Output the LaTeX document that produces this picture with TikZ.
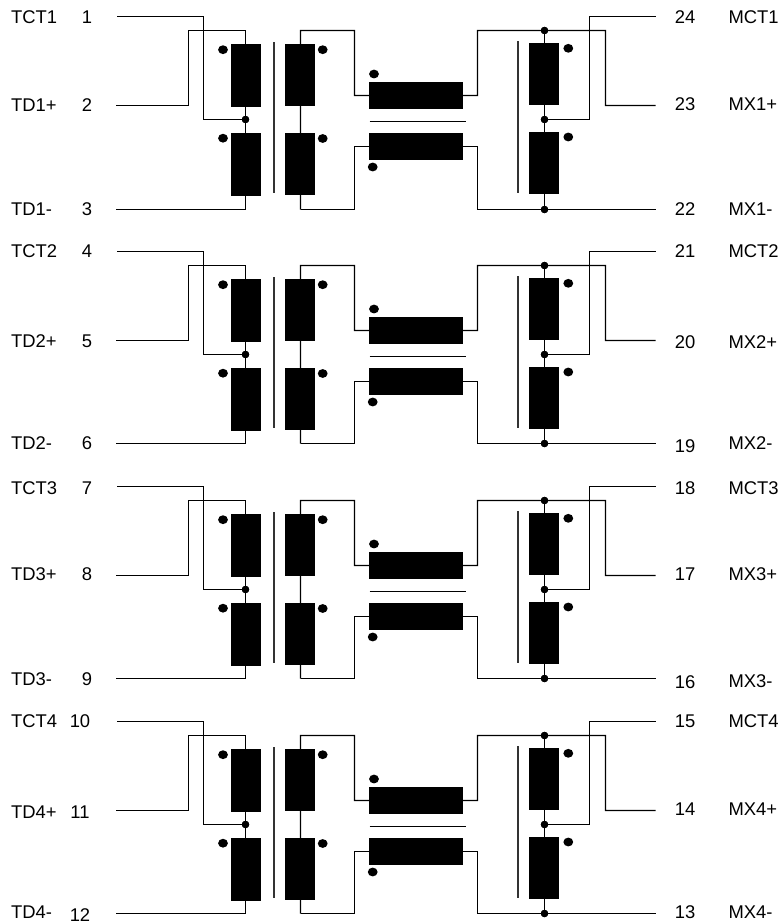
\documentclass[tikz,border=0pt]{standalone}
\usepackage{fontspec}
\setmainfont{Liberation Sans}
\usetikzlibrary{shapes.geometric}
\tikzset{
  wire/.style={draw=black,line width=1.2pt,line join=miter},
  corebar/.style={draw=black!80,line width=1.7pt},
  coilv/.style={rectangle,fill=black,draw=none,inner sep=0pt,minimum width=29.7pt,minimum height=62pt},
  coilh/.style={rectangle,fill=black,draw=none,inner sep=0pt,minimum width=93.4pt,minimum height=26.6pt},
  joint/.style={circle,fill=black,draw=none,inner sep=0pt,minimum size=7.4pt},
  pol/.style={ellipse,fill=black,draw=none,inner sep=0pt,minimum width=9.8pt,minimum height=8.8pt},
  lab/.style={anchor=base west,inner sep=0pt,font=\fontsize{18.4pt}{20pt}\selectfont},
  num/.style={anchor=base,inner sep=0pt,font=\fontsize{18.4pt}{20pt}\selectfont},
}
\newcommand{\txblock}[3]{%
  \begin{scope}[yshift=-#2pt]
    % windings
    \node[coilv] (#1pa) at (245.8,75.5) {};
    \node[coilv] (#1pb) at (245.8,164.6) {};
    \node[coilv] (#1sa) at (300.1,75) {};
    \node[coilv] (#1sb) at (300.1,164.2) {};
    \node[coilh] (#1ca) at (416,95.6) {};
    \node[coilh] (#1cb) at (416,146.5) {};
    \node[coilv] (#1ra) at (544.1,73.8) {};
    \node[coilv] (#1rb) at (544.1,162.8) {};
    % joints
    \node[joint] (#1jl) at (245.5,119.5) {};
    \node[joint] (#1jt) at (544.5,30.5) {};
    \node[joint] (#1jm) at (544.5,119.5) {};
    \node[joint] (#1jb) at (544.5,#3) {};
    % polarity dots
    \node[pol] (#1d1) at (223,49.7) {};
    \node[pol] (#1d2) at (223,138.2) {};
    \node[pol] (#1d3) at (322.7,49.7) {};
    \node[pol] (#1d4) at (322.7,138.5) {};
    \node[pol] (#1d5) at (374,74) {};
    \node[pol] (#1d6) at (372.7,167) {};
    \node[pol] (#1d7) at (568.3,48.3) {};
    \node[pol] (#1d8) at (568.3,137) {};
    % free ends
    \coordinate (#1pin1) at (117.3,16.5);
    \coordinate (#1pin2) at (116,105.5);
    \coordinate (#1pin3) at (116,#3);
    \coordinate (#1pin4) at (655.7,16.5);
    \coordinate (#1pin5) at (655.7,105.5);
    \coordinate (#1pin6) at (655.7,#3);
    % bends
    \coordinate (#1a1) at (203.5,119.5);
    \coordinate (#1a2) at (188.5,30.5);
    \coordinate (#1a3) at (300.5,30.5);
    \coordinate (#1a4) at (354.5,95.5);
    \coordinate (#1a5) at (300.5,#3);
    \coordinate (#1a6) at (354.5,146.5);
    \coordinate (#1a7) at (477.5,95.5);
    \coordinate (#1a8) at (477.5,146.5);
    \coordinate (#1a9) at (605.5,30.5);
    \coordinate (#1a10) at (589.5,119.5);
    \coordinate (#1c1) at (245.5,30.5);
    \coordinate (#1c2) at (245.5,#3);
    % wires
    \draw[wire] (#1pin1) -| (#1a1) -- (#1jl.center);
    \draw[wire] (#1pin2) -| (#1a2) -- (#1c1) -- (#1c2) -- (#1pin3);
    \draw[wire] (#1a5) -- (#1a3) -| (#1a4) -- (#1ca.center);
    \draw[wire] (#1a5) -| (#1a6) -- (#1cb.center);
    \draw[wire] (#1ca.center) -- (#1a7) |- (#1jt.center) -- (#1a9) |- (#1pin5);
    \draw[wire] (#1cb.center) -- (#1a8) |- (#1jb.center) -- (#1pin6);
    \draw[wire] (#1jt.center) -- (#1jb.center);
    \draw[wire] (#1jm.center) -| (#1a10) |- (#1pin4);
    % cores
    \coordinate (#1b1) at (274,42.3);
    \coordinate (#1b2) at (274,193.3);
    \coordinate (#1b3) at (517.7,41.3);
    \coordinate (#1b4) at (517.7,192.7);
    \coordinate (#1b5) at (369.5,121.5);
    \coordinate (#1b6) at (466,121.5);
    \draw[corebar] (#1b1) -- (#1b2);
    \draw[corebar] (#1b3) -- (#1b4);
    \draw[wire] (#1b5) -- (#1b6);
    % redraw windings above wires
    \fill[black] (#1pa.south west) rectangle (#1pa.north east);
    \fill[black] (#1pb.south west) rectangle (#1pb.north east);
    \fill[black] (#1sa.south west) rectangle (#1sa.north east);
    \fill[black] (#1sb.south west) rectangle (#1sb.north east);
    \fill[black] (#1ca.south west) rectangle (#1ca.north east);
    \fill[black] (#1cb.south west) rectangle (#1cb.north east);
    \fill[black] (#1ra.south west) rectangle (#1ra.north east);
    \fill[black] (#1rb.south west) rectangle (#1rb.north east);
    \fill[black] (#1jl) circle (3.7pt);
    \fill[black] (#1jt) circle (3.7pt);
    \fill[black] (#1jm) circle (3.7pt);
    \fill[black] (#1jb) circle (3.7pt);
  \end{scope}%
}
\begin{document}
\begin{tikzpicture}[x=1pt,y=-1pt]
\useasboundingbox (0,0) rectangle (781,924);
\txblock{A}{0}{209.5}
\txblock{B}{235}{208.5}
\txblock{C}{470}{208.5}
\txblock{D}{705}{208.5}
% left labels
\node[lab] (l1) at (11,23.9) {TCT1};
\node[num] (n1) at (87,23.9) {1};
\node[lab] (l2) at (11,111.6) {TD1+};
\node[num] (n2) at (87,111.6) {2};
\node[lab] (l3) at (11,215.8) {TD1-};
\node[num] (n3) at (87,215.8) {3};
\node[lab] (l4) at (11,257.3) {TCT2};
\node[num] (n4) at (87,257.3) {4};
\node[lab] (l5) at (11,347.6) {TD2+};
\node[num] (n5) at (87,347.6) {5};
\node[lab] (l6) at (11,449.3) {TD2-};
\node[num] (n6) at (87,449.3) {6};
\node[lab] (l7) at (11,494.3) {TCT3};
\node[num] (n7) at (87,494.3) {7};
\node[lab] (l8) at (11,580.9) {TD3+};
\node[num] (n8) at (87,580.9) {8};
\node[lab] (l9) at (11,685.3) {TD3-};
\node[num] (n9) at (87,685.3) {9};
\node[lab] (l10) at (11,727.3) {TCT4};
\node[num] (n10) at (80,727.3) {10};
\node[lab] (l11) at (11,818.9) {TD4+};
\node[num] (n11) at (80,818.9) {11};
\node[lab] (l12) at (11,918.3) {TD4-};
\node[num] (n12) at (80,921.8) {12};
% right labels
\node[num] (n24) at (685,23.3) {24};
\node[lab] (l24) at (728.3,23.6) {MCT1};
\node[num] (n23) at (685,110.9) {23};
\node[lab] (l23) at (728.3,110.9) {MX1+};
\node[num] (n22) at (685,215.9) {22};
\node[lab] (l22) at (728.3,215.9) {MX1-};
\node[num] (n21) at (685,257.3) {21};
\node[lab] (l21) at (728.3,257.3) {MCT2};
\node[num] (n20) at (685,348.3) {20};
\node[lab] (l20) at (728.3,348.3) {MX2+};
\node[num] (n19) at (685,452.3) {19};
\node[lab] (l19) at (728.3,449.9) {MX2-};
\node[num] (n18) at (685,494.3) {18};
\node[lab] (l18) at (728.3,494.3) {MCT3};
\node[num] (n17) at (685,580.9) {17};
\node[lab] (l17) at (728.3,580.9) {MX3+};
\node[num] (n16) at (685,688.3) {16};
\node[lab] (l16) at (728.3,687.6) {MX3-};
\node[num] (n15) at (685,727.3) {15};
\node[lab] (l15) at (728.3,727.3) {MCT4};
\node[num] (n14) at (685,815.6) {14};
\node[lab] (l14) at (728.3,815.6) {MX4+};
\node[num] (n13) at (685,918.6) {13};
\node[lab] (l13) at (728.3,918.6) {MX4-};
\end{tikzpicture}
\end{document}
